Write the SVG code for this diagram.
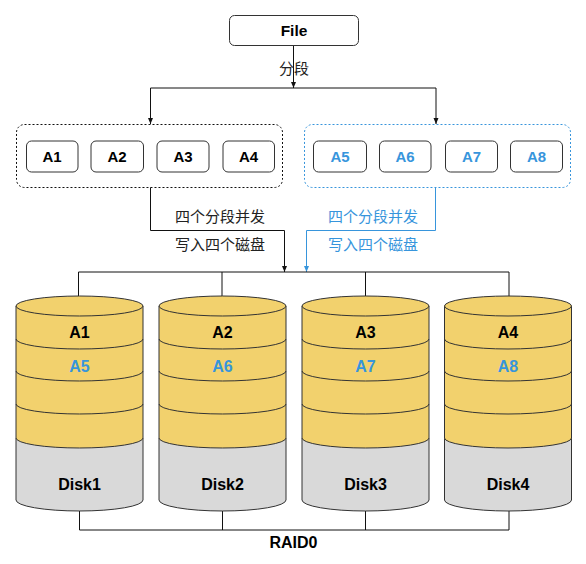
<svg xmlns="http://www.w3.org/2000/svg" width="586" height="564" viewBox="0 0 586 564">
<style>
.bx{fill:#ffffff;stroke:#333333;stroke-width:1}
.t{font-family:"Liberation Sans",Arial,sans-serif;font-weight:bold;text-anchor:middle;fill:#000000}
.blue{fill:#3795DC}
.cn{font-family:"Noto Sans CJK SC","Noto Sans",sans-serif;font-size:15px;text-anchor:middle;fill:#222222}
.cnb{fill:#3795DC}
.ln{fill:none;stroke:#111111;stroke-width:1}
.lnb{fill:none;stroke:#3795DC;stroke-width:1}
.yel{fill:#F2D16D;stroke:#333333;stroke-width:1}
.gry{fill:#D9D9D9;stroke:#333333;stroke-width:1}
.sep{fill:none;stroke:#333333;stroke-width:1}
</style>
<defs>
<marker id="ah" markerWidth="7" markerHeight="6" refX="6" refY="2.5" orient="auto" markerUnits="userSpaceOnUse"><path d="M0,0 L6,2.5 L0,5 z" fill="#111111"/></marker>
<marker id="ahb" markerWidth="7" markerHeight="6" refX="6" refY="2.5" orient="auto" markerUnits="userSpaceOnUse"><path d="M0,0 L6,2.5 L0,5 z" fill="#3795DC"/></marker>
</defs>
<rect width="586" height="564" fill="#ffffff"/>

<g id="connectors">
<path class="ln" d="M293.5,45 V88" marker-end="url(#ah)"/>
<path class="ln" d="M150.5,88 H436"/>
<path class="ln" d="M150.5,88 V124" marker-end="url(#ah)"/>
<path class="ln" d="M436,88 V124" marker-end="url(#ah)"/>
<path class="ln" d="M150.5,187.5 V230.5 H284.5 V272" marker-end="url(#ah)"/>
<path class="lnb" d="M435.5,187.5 V230.5 H306.5 V272" marker-end="url(#ahb)"/>
<path class="ln" d="M78.5,272 H509"/>
<path class="ln" d="M78.5,272 V306" marker-end="url(#ah)"/>
<path class="ln" d="M222,272 V306" marker-end="url(#ah)"/>
<path class="ln" d="M365.5,272 V306" marker-end="url(#ah)"/>
<path class="ln" d="M509,272 V306" marker-end="url(#ah)"/>
<path class="ln" d="M79.5,511 V530 H509 V511 M222.5,511 V530 M365.5,511 V530"/>
<text class="cn" x="294" y="73.5">分段</text>
<text class="cn" x="220" y="222">四个分段并发</text>
<text class="cn" x="220" y="250">写入四个磁盘</text>
<text class="cn cnb" x="373" y="222">四个分段并发</text>
<text class="cn cnb" x="373" y="250">写入四个磁盘</text>
</g>

<g id="file">
<rect class="bx" x="229.5" y="15.5" width="129" height="30" rx="5"/>
<text class="t" x="294" y="35.5" font-size="15.5">File</text>
</g>

<g id="groupA">
<rect x="16.5" y="124.5" width="266" height="63" rx="8" fill="none" stroke="#111111" stroke-dasharray="2 2"/>
<g id="a1"><rect class="bx" x="26.5" y="141" width="51.5" height="31" rx="5"/><text class="t" x="52" y="162" font-size="15">A1</text></g>
<g id="a2"><rect class="bx" x="91" y="141" width="52.5" height="31" rx="5"/><text class="t" x="117" y="162" font-size="15">A2</text></g>
<g id="a3"><rect class="bx" x="157" y="141" width="52" height="31" rx="5"/><text class="t" x="183" y="162" font-size="15">A3</text></g>
<g id="a4"><rect class="bx" x="223" y="141" width="51.5" height="31" rx="5"/><text class="t" x="248.5" y="162" font-size="15">A4</text></g>
</g>

<g id="groupB">
<rect x="304.5" y="124.5" width="266" height="63" rx="8" fill="none" stroke="#3795DC" stroke-dasharray="2 2"/>
<g id="a5"><rect class="bx" x="313.5" y="141" width="53" height="31" rx="5"/><text class="t blue" x="340" y="162" font-size="15">A5</text></g>
<g id="a6"><rect class="bx" x="379.5" y="141" width="51.5" height="31" rx="5"/><text class="t blue" x="405" y="162" font-size="15">A6</text></g>
<g id="a7"><rect class="bx" x="445.5" y="141" width="52" height="31" rx="5"/><text class="t blue" x="471.5" y="162" font-size="15">A7</text></g>
<g id="a8"><rect class="bx" x="510.5" y="141" width="52" height="31" rx="5"/><text class="t blue" x="536.5" y="162" font-size="15">A8</text></g>
</g>

<g id="disk1">
<path class="gry" d="M16,438 V500 A63.5,11 0 0 0 143,500 V438 Z"/>
<path class="yel" d="M16,306 V438 A63.5,10 0 0 0 143,438 V306 Z"/>
<ellipse class="yel" cx="79.5" cy="306" rx="63.5" ry="10"/>
<path class="sep" d="M16,339 A63.5,10 0 0 0 143,339 M16,371 A63.5,10 0 0 0 143,371 M16,404 A63.5,10 0 0 0 143,404"/>
<text class="t" x="79.5" y="337.5" font-size="16">A1</text>
<text class="t blue" x="79.5" y="372" font-size="16">A5</text>
<text class="t" x="79.5" y="489.5" font-size="16">Disk1</text>
</g>

<g id="disk2">
<path class="gry" d="M159,438 V500 A63.5,11 0 0 0 286,500 V438 Z"/>
<path class="yel" d="M159,306 V438 A63.5,10 0 0 0 286,438 V306 Z"/>
<ellipse class="yel" cx="222.5" cy="306" rx="63.5" ry="10"/>
<path class="sep" d="M159,339 A63.5,10 0 0 0 286,339 M159,371 A63.5,10 0 0 0 286,371 M159,404 A63.5,10 0 0 0 286,404"/>
<text class="t" x="222.5" y="337.5" font-size="16">A2</text>
<text class="t blue" x="222.5" y="372" font-size="16">A6</text>
<text class="t" x="222.5" y="489.5" font-size="16">Disk2</text>
</g>

<g id="disk3">
<path class="gry" d="M302,438 V500 A63.5,11 0 0 0 429,500 V438 Z"/>
<path class="yel" d="M302,306 V438 A63.5,10 0 0 0 429,438 V306 Z"/>
<ellipse class="yel" cx="365.5" cy="306" rx="63.5" ry="10"/>
<path class="sep" d="M302,339 A63.5,10 0 0 0 429,339 M302,371 A63.5,10 0 0 0 429,371 M302,404 A63.5,10 0 0 0 429,404"/>
<text class="t" x="365.5" y="337.5" font-size="16">A3</text>
<text class="t blue" x="365.5" y="372" font-size="16">A7</text>
<text class="t" x="365.5" y="489.5" font-size="16">Disk3</text>
</g>

<g id="disk4">
<path class="gry" d="M444.5,438 V500 A63.5,11 0 0 0 571.5,500 V438 Z"/>
<path class="yel" d="M444.5,306 V438 A63.5,10 0 0 0 571.5,438 V306 Z"/>
<ellipse class="yel" cx="508" cy="306" rx="63.5" ry="10"/>
<path class="sep" d="M444.5,339 A63.5,10 0 0 0 571.5,339 M444.5,371 A63.5,10 0 0 0 571.5,371 M444.5,404 A63.5,10 0 0 0 571.5,404"/>
<text class="t" x="508" y="337.5" font-size="16">A4</text>
<text class="t blue" x="508" y="372" font-size="16">A8</text>
<text class="t" x="508" y="489.5" font-size="16">Disk4</text>
</g>

<g id="raid0">
<text class="t" x="293.5" y="547.5" font-size="16">RAID0</text>
</g>
</svg>
